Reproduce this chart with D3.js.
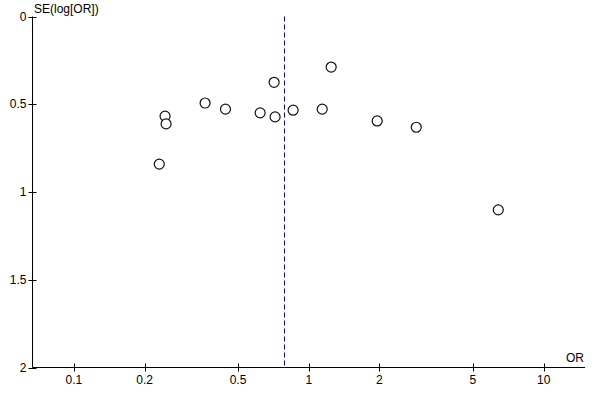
<!DOCTYPE html>
<html>
<head>
<meta charset="utf-8">
<script src="https://cdn.jsdelivr.net/npm/d3@7"></script>
<style>
  body { margin: 0; background: #fff; }
  text { font-family: "Liberation Sans", Arial, sans-serif; font-size: 12px; fill: #000; }
</style>
</head>
<body>
<div class="chart"></div>
<script>
// study estimates
var orValues = [1.246, 0.712, 0.362, 0.442, 0.2445, 0.247, 0.621, 0.719, 0.858, 1.141, 1.956, 2.869, 0.231, 6.41];
var seValues = [0.288, 0.375, 0.493, 0.528, 0.568, 0.612, 0.549, 0.572, 0.534, 0.528, 0.595, 0.631, 0.841, 1.102];
var pooledOR = 0.782;
var xTicks = [0.1, 0.2, 0.5, 1, 2, 5, 10];
var yTicks = [0, 0.5, 1, 1.5, 2];

var data = orValues.map((v, i) => ({ or: v, se: seValues[i] }));

var width = 600, height = 400;
var svg = d3.select('.chart')
  .append('svg')
    .attr('width', width)
    .attr('height', height);

var xScale = d3.scaleLog()
  .domain([1 / 15, 15])
  .range([32.5, 585]);

var yScale = d3.scaleLinear()
  .domain([0, 2])
  .range([16.5, 367.5]);

// y axis
var yAxis = svg.append('g')
  .attr('transform', 'translate(32.5,0)');
yAxis.append('line')
  .attr('y1', yScale(0)).attr('y2', yScale(2))
  .attr('stroke', '#000');
yAxis.selectAll('.tick')
  .data(yTicks)
  .enter()
  .append('line')
    .attr('x1', -4).attr('x2', 4)
    .attr('y1', d => Math.round(yScale(d)) + 0.5)
    .attr('y2', d => Math.round(yScale(d)) + 0.5)
    .attr('stroke', '#000');
yAxis.selectAll('.lbl')
  .data(yTicks)
  .enter()
  .append('text')
    .attr('x', -6)
    .attr('y', d => yScale(d) + 4)
    .attr('text-anchor', 'end')
    .text(d => d);

// x axis
var xAxis = svg.append('g')
  .attr('transform', 'translate(0,' + yScale(2) + ')');
xAxis.append('line')
  .attr('x1', 32.5).attr('x2', 585)
  .attr('stroke', '#000');
xAxis.selectAll('.tick')
  .data(xTicks)
  .enter()
  .append('line')
    .attr('x1', d => Math.round(xScale(d)) + 0.5)
    .attr('x2', d => Math.round(xScale(d)) + 0.5)
    .attr('y1', -4).attr('y2', 4)
    .attr('stroke', '#000');
xAxis.selectAll('.lbl')
  .data(xTicks)
  .enter()
  .append('text')
    .attr('x', d => xScale(d))
    .attr('y', 16)
    .attr('text-anchor', 'middle')
    .text(d => d);

svg.append('text')
  .attr('x', 34)
  .attr('y', 13)
  .text('SE(log[OR])');

svg.append('text')
  .attr('x', 584)
  .attr('y', 362)
  .attr('text-anchor', 'end')
  .text('OR');

// pooled estimate
svg.append('line')
  .attr('x1', Math.round(xScale(pooledOR)) + 0.5)
  .attr('x2', Math.round(xScale(pooledOR)) + 0.5)
  .attr('y1', yScale(0))
  .attr('y2', yScale(2) - 1)
  .attr('stroke', '#0000cc')
  .attr('stroke-dasharray', '5,3');

svg.selectAll('circle')
  .data(data)
  .enter()
  .append('circle')
    .attr('cx', d => xScale(d.or))
    .attr('cy', d => yScale(d.se))
    .attr('r', 5)
    .style('fill', '#fff')
    .style('stroke', '#111')
    .style('stroke-width', 1.2);
</script>
</body>
</html>
